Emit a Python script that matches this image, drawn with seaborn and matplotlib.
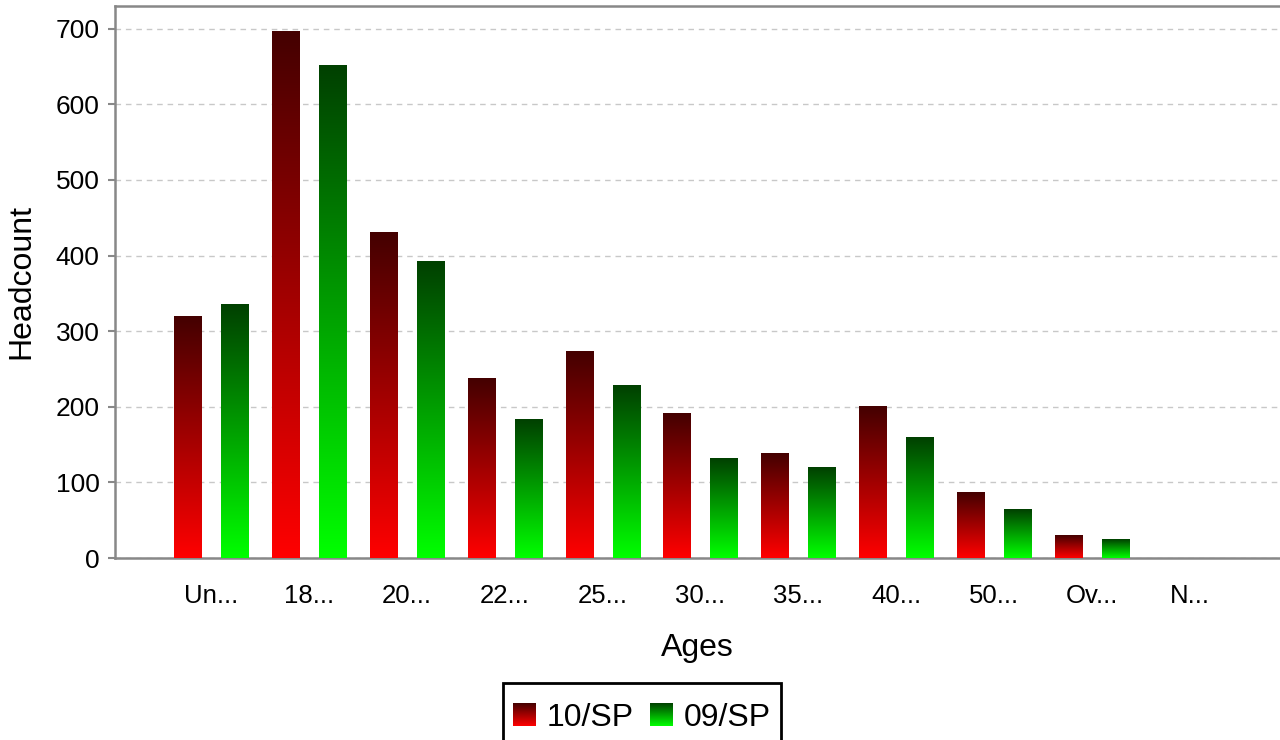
import numpy as np
import pandas as pd
import matplotlib
matplotlib.use('Agg')
import matplotlib.pyplot as plt
import seaborn as sns
from matplotlib.patches import Patch, Rectangle
from matplotlib.legend_handler import HandlerBase
from matplotlib.image import BboxImage
from matplotlib.transforms import Bbox, TransformedBbox

# 数据
ages = ['Un...', '18...', '20...', '22...', '25...', '30...', '35...', '40...', '50...', 'Ov...', 'N...']
sp10 = [319, 696, 430, 237, 273, 191, 138, 201, 86, 30, 0]
sp09 = [335, 651, 392, 183, 228, 132, 120, 160, 64, 25, 0]
series = ['10/SP', '09/SP']

# 渐变色 (顶部深色 -> 底部亮色)
grad_colors = {
    '10/SP': ('#440000', '#ff0000'),
    '09/SP': ('#004000', '#00ff00'),
}


def gradient(top, bottom, n=256):
    t = np.array(matplotlib.colors.to_rgb(top))
    b = np.array(matplotlib.colors.to_rgb(bottom))
    f = np.linspace(0, 1, n)[:, None]
    return (t + (b - t) * f).reshape(n, 1, 3)


class GradientHandler(HandlerBase):
    def __init__(self, top, bottom):
        super().__init__()
        self.top, self.bottom = top, bottom

    def create_artists(self, legend, orig_handle, xdescent, ydescent, width, height, fontsize, trans):
        bb = TransformedBbox(Bbox.from_bounds(-xdescent, -ydescent, width, height), trans)
        img = BboxImage(bb, interpolation='bilinear', origin='upper')
        img.set_data(gradient(self.top, self.bottom))
        return [img]


df = pd.DataFrame({
    'age': ages * 2,
    'count': sp10 + sp09,
    'series': [series[0]] * len(ages) + [series[1]] * len(ages),
})

sns.set_style('white')
plt.rcParams['font.family'] = ['Liberation Sans', 'DejaVu Sans']
plt.rcParams['text.color'] = 'black'
plt.rcParams['axes.labelcolor'] = 'black'

fig = plt.figure(figsize=(12.8, 7.4), dpi=100)
ax = fig.add_axes([115 / 1280, 1 - 558 / 740, 1 - 115 / 1280, (558 - 6) / 740])

sns.barplot(data=df, x='age', y='count', hue='series', order=ages, hue_order=series,
            palette=['#cc0000', '#00cc00'], width=0.96, gap=0.425, legend=False, ax=ax)

# 用渐变图像替换每个柱子
for cont, name in zip(ax.containers, series):
    top, bottom = grad_colors[name]
    g = gradient(top, bottom)
    for bar in cont:
        x, w, h = bar.get_x(), bar.get_width(), bar.get_height()
        bar.set_visible(False)
        if h <= 0:
            continue
        ax.imshow(g, extent=[x, x + w, 0, h], aspect='auto', origin='upper',
                  interpolation='bilinear', zorder=3)

ax.set_xlim(-0.98, 10.92)
ax.set_ylim(0, 730)
ax.set_yticks(range(0, 701, 100))

ax.grid(axis='y', color='#c8c8c8', linestyle=(0, (4, 3.5)), linewidth=1)
ax.set_axisbelow(True)

for s in ['left', 'bottom', 'top']:
    ax.spines[s].set_color('#888888')
    ax.spines[s].set_linewidth(1.8)
ax.spines['right'].set_visible(False)

ax.tick_params(axis='y', left=True, length=5, width=1.5, color='#888888', pad=6,
               labelsize=19, labelcolor='black')
ax.tick_params(axis='x', bottom=False, pad=15, labelsize=18.5, labelcolor='black')

ax.set_xlabel('Ages', fontsize=23, labelpad=18)
ax.set_ylabel('Headcount', fontsize=23, labelpad=14)

handles = [Patch(label=s) for s in series]
hmap = {h: GradientHandler(*grad_colors[s]) for h, s in zip(handles, series)}
leg = fig.legend(handles=handles, handler_map=hmap, loc='upper center',
                 bbox_to_anchor=(642 / 1280, 1 - 693 / 740), ncol=2, fontsize=23,
                 frameon=False, handlelength=0.7, handleheight=0.7, handletextpad=0.35,
                 columnspacing=0.5, borderpad=0.32, borderaxespad=0)

# 图例边框: 上边距更大, 底部超出画布
fig.canvas.draw()
bb = leg.get_window_extent()
fig.patches.append(Rectangle((bb.x0, -20), bb.width, bb.y1 + 10 + 20, transform=None,
                             fill=False, edgecolor='black', linewidth=2, zorder=5))

fig.savefig('out.png', dpi=100)
